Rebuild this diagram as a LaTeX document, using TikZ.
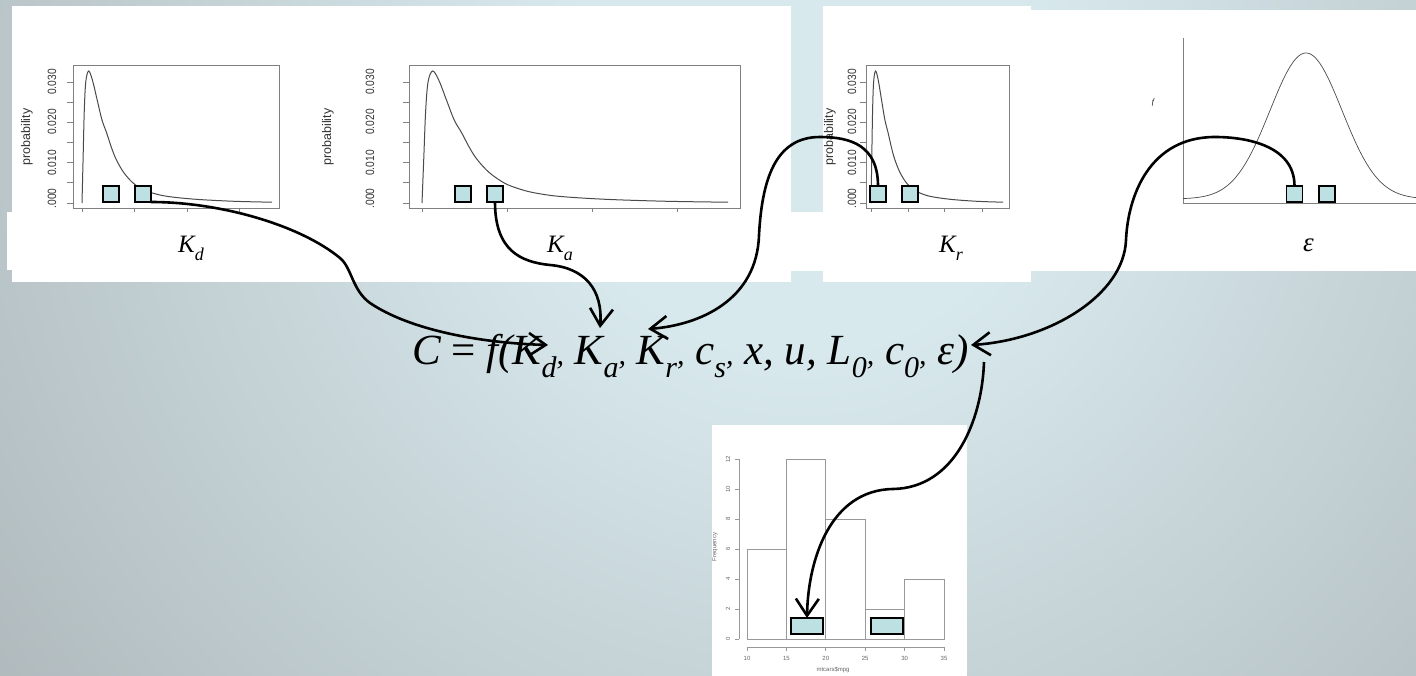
\documentclass[tikz,border=0pt]{standalone}
\usepackage{fontspec}
\setmainfont{Liberation Serif}
\newfontfamily\plotfont{Liberation Sans}
\usetikzlibrary{arrows.meta}
\definecolor{bgin}{HTML}{D8E9ED}
\definecolor{bgout}{HTML}{9AA0A3}
\definecolor{sqfill}{HTML}{BDE0E3}
\definecolor{axgray}{HTML}{808080}
\definecolor{curvegray}{HTML}{4A4A4A}
\pgfdeclareradialshading{bgshade}{\pgfpoint{0bp}{0bp}}{color(0bp)=(bgin); color(6bp)=(bgin); color(35bp)=(bgout); color(50bp)=(bgout)}
\newcommand{\yt}[1]{\scalebox{0.85}[1]{#1}}
\newcommand{\fsb}[1]{\raisebox{-13pt}{\fontsize{30}{30}\selectfont #1}{\fontsize{30}{30}\selectfont ,}}
\newcommand{\lsb}[1]{\raisebox{-8pt}{\fontsize{18}{18}\selectfont #1}}
\tikzset{
  sq/.style={draw=black, line width=1.4pt, fill=sqfill, minimum width=16pt, minimum height=16pt, inner sep=0pt, outer sep=0pt},
  hsq/.style={sq, minimum width=32pt},
  conn/.style={line width=2.6pt, -{Straight Barb[length=17pt,width=23pt]}},
  ytl/.style={font=\plotfont\fontsize{12}{12}\selectfont, text=black!80, rotate=90, inner sep=0pt},
  plab/.style={font=\plotfont\fontsize{12.5}{12.5}\selectfont, text=black!80, rotate=90, inner sep=0pt},
  htl/.style={font=\plotfont\fontsize{6}{6}\selectfont, text=black!60, inner sep=0pt},
  pbox/.style={draw=axgray, line width=0.9pt},
  curve/.style={draw=curvegray, line width=1pt},
  lbl/.style={font=\fontsize{25}{25}\selectfont\itshape, inner sep=0pt, anchor=base west},
  bar/.style={draw=black!40, line width=1pt, fill=white}
}
\begin{document}
\begin{tikzpicture}[x=1pt,y=-1pt]
\useasboundingbox (0,0) rectangle (1416,676);
\begin{scope}
  \clip (0,0) rectangle (1416,676);
  \shade[shading=bgshade] (800,110) circle (1000);
\end{scope}
% white panels
\fill[white] (12,6) rectangle (791,282);
\fill[white] (7,212) rectangle (12,270);
\fill[white] (791,212) rectangle (823,271);
\fill[white] (823,6) rectangle (1031,282);
\fill[white] (1031,10) rectangle (1416,271);
\fill[white] (712,425) rectangle (967,676);

% ---------- plot 1 (K_d)
\draw[pbox] (73,65) rectangle (279,208);
\foreach \k in {0,...,6} \draw[pbox] (73,{203-20.17*\k}) -- (67,{203-20.17*\k});
\foreach \xx in {82,134,187,239} \draw[pbox] (\xx,208) -- (\xx,212);
\begin{scope}[shift={(82,203)}, xscale=190, yscale=-132]
\draw[curve] plot[smooth, tension=0.55] coordinates {(0,0) (0.006,0.35) (0.012,0.7) (0.02,0.92) (0.035,1) (0.055,0.93) (0.08,0.78) (0.105,0.63) (0.13,0.53) (0.155,0.42) (0.18,0.33) (0.22,0.23) (0.27,0.15) (0.32,0.105) (0.37,0.076) (0.45,0.05) (0.6,0.028) (0.8,0.013) (1,0.006)};
\end{scope}
\node[ytl] (p1a) at (52,82) {\yt{0.030}};
\node[ytl] (p1b) at (52,122) {\yt{0.020}};
\node[ytl] (p1c) at (52,163) {\yt{0.010}};
\node[ytl, anchor=west] (p1d) at (52,208.5) {\yt{.000}};
\node[plab] (p1p) at (27,137) {probability};

% ---------- plot 2 (K_a)
\draw[pbox] (409,65) rectangle (740,208);
\foreach \k in {0,...,6} \draw[pbox] (409,{203-20.17*\k}) -- (403,{203-20.17*\k});
\foreach \xx in {422,507,592,677} \draw[pbox] (\xx,208) -- (\xx,212);
\begin{scope}[shift={(422,203)}, xscale=306, yscale=-132]
\draw[curve] plot[smooth, tension=0.55] coordinates {(0,0) (0.006,0.35) (0.012,0.7) (0.02,0.92) (0.035,1) (0.055,0.93) (0.08,0.78) (0.105,0.63) (0.13,0.53) (0.155,0.42) (0.18,0.33) (0.22,0.23) (0.27,0.15) (0.32,0.105) (0.37,0.076) (0.45,0.05) (0.6,0.028) (0.8,0.013) (1,0.006)};
\end{scope}
\node[ytl] (p2a) at (370,82) {\yt{0.030}};
\node[ytl] (p2b) at (370,122) {\yt{0.020}};
\node[ytl] (p2c) at (370,163) {\yt{0.010}};
\node[ytl, anchor=west] (p2d) at (370,208.5) {\yt{.000}};
\node[plab] (p2p) at (328,137) {probability};

% ---------- plot 3 (K_r)
\draw[pbox] (866,65) rectangle (1009,208);
\foreach \k in {0,...,6} \draw[pbox] (866,{203-20.17*\k}) -- (860,{203-20.17*\k});
\foreach \xx in {871,908,944,982} \draw[pbox] (\xx,208) -- (\xx,212);
\begin{scope}[shift={(871,203)}, xscale=132, yscale=-132]
\draw[curve] plot[smooth, tension=0.55] coordinates {(0,0) (0.006,0.35) (0.012,0.7) (0.02,0.92) (0.035,1) (0.055,0.93) (0.08,0.78) (0.105,0.63) (0.13,0.53) (0.155,0.42) (0.18,0.33) (0.22,0.23) (0.27,0.15) (0.32,0.105) (0.37,0.076) (0.45,0.05) (0.6,0.028) (0.8,0.013) (1,0.006)};
\end{scope}
\node[ytl] (p3a) at (852,82) {\yt{0.030}};
\node[ytl] (p3b) at (852,122) {\yt{0.020}};
\node[ytl] (p3c) at (852,163) {\yt{0.010}};
\node[ytl, anchor=west] (p3d) at (852,208.5) {\yt{.000}};
\node[plab] (p3p) at (830,137) {probability};

% ---------- plot 4 (epsilon)
\draw[pbox] (1183,38) -- (1183,203) -- (1416,203);
\draw[curve, line width=0.7pt] plot[domain=1183:1416, samples=120] (\x, {199 - 146*exp(-0.5*((\x-1306)/36)^2)});
\node[font=\fontsize{8}{8}\selectfont\itshape, inner sep=0pt] (p4f) at (1153,103) {f};

% ---------- histogram
\draw[bar] (747,639) rectangle (786.4,549);
\draw[bar] (786.4,639) rectangle (825.8,459);
\draw[bar] (825.8,639) rectangle (865.2,519);
\draw[bar] (865.2,639) rectangle (904.6,609);
\draw[bar] (904.6,639) rectangle (944,579);
\draw[draw=black!40, line width=0.8pt] (739,639) -- (739,459);
\foreach \v in {0,2,4,6,8,10,12} {
  \draw[draw=black!40, line width=0.8pt] (739,{639-15*\v}) -- (735,{639-15*\v});
  \node[htl, rotate=90] (hy\v) at (728,{639-15*\v}) {\v};
}
\draw[draw=black!40, line width=0.8pt] (747,647) -- (944,647);
\foreach \v in {10,15,20,25,30,35} {
  \draw[draw=black!40, line width=0.8pt] ({747+7.88*(\v-10)},647) -- ({747+7.88*(\v-10)},651);
  \node[htl] (hx\v) at ({747+7.88*(\v-10)},658) {\v};
}
\node[htl, rotate=90] (hfreq) at (715,547) {Frequency};
\node[htl] (hmpg) at (833,670) {mtcars\$mpg};

% ---------- labels
\node[lbl] (labKd) at (178,253) {K\lsb{d}};
\node[lbl] (labKa) at (547,253) {K\lsb{a}};
\node[lbl] (labKr) at (939,253) {K\lsb{r}};
\node[font=\fontsize{27}{27}\selectfont\itshape, anchor=base west, inner sep=0pt] (labE) at (1303,252) {ε};

% ---------- formula
\node[anchor=base west, inner sep=0pt, font=\fontsize{43}{43}\selectfont\itshape] (formula) at (412,364)
  {C {\upshape =} f(K\fsb{d} K\fsb{a} K\fsb{r} c\fsb{s} x, u, L\fsb{0} c\fsb{0} ε)};

% ---------- squares
\node[sq] (kd1) at (111,194) {};
\node[sq] (kd2) at (143,194) {};
\node[sq] (ka1) at (463,194) {};
\node[sq] (ka2) at (495,194) {};
\node[sq] (kr1) at (878,194) {};
\node[sq] (kr2) at (910,194) {};
\node[sq] (e1) at (1294.5,194) {};
\node[sq] (e2) at (1327,194) {};
\node[hsq] (h1) at (807,626) {};
\node[hsq] (h2) at (887,626) {};

% ---------- connectors
\coordinate (tKd) at (548,345);
\coordinate (tKa) at (600,328);
\coordinate (tKr) at (648,329);
\coordinate (tE) at (971,345);
\coordinate (sH) at (984,362);
\draw[conn] (kd2.south east) .. controls (220,202) and (300,225) .. (340,258) .. controls (352,268) and (352,290) .. (370,303) .. controls (410,330) and (480,343) .. (tKd);
\draw[conn] (ka2.south) .. controls (495,250) and (520,262) .. (550,265) .. controls (585,268) and (603,290) .. (tKa);
\draw[conn] (kr1.north) .. controls (878,145) and (850,137) .. (820,137) .. controls (775,137) and (762,180) .. (759,235) .. controls (757,300) and (700,325) .. (tKr);
\draw[conn] (e1.north) .. controls (1294.5,145) and (1245,137) .. (1215,137) .. controls (1150,137) and (1128,195) .. (1126,240) .. controls (1124,295) and (1050,340) .. (tE);
\draw[conn] (sH) .. controls (982,420) and (955,488) .. (893,489) .. controls (830,490) and (808,560) .. (h1.north);
\end{tikzpicture}
\end{document}
